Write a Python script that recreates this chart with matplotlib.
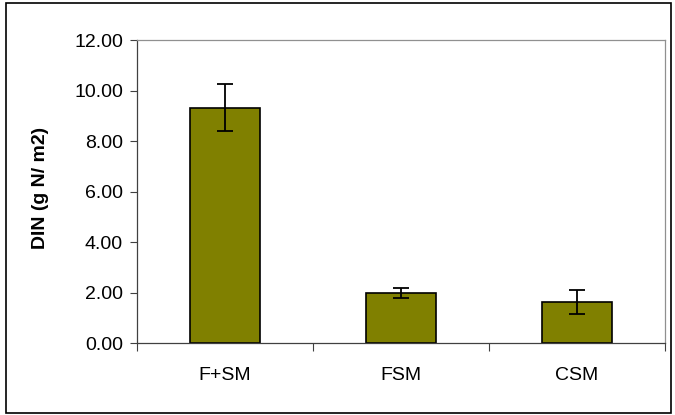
import matplotlib.pyplot as plt
import matplotlib.patches as patches
import numpy as np

categories = ["F+SM", "FSM", "CSM"]
din = [9.31, 2.00, 1.64]
din_err = [0.93, 0.20, 0.47]
yticks = [0, 2, 4, 6, 8, 10, 12]

plt.rcParams['font.family'] = ['Liberation Sans', 'DejaVu Sans']

fig = plt.figure(figsize=(6.75, 4.15), dpi=100)
ax = fig.add_axes([137/675, 1-343.3/415, (665-137)/675, (343.3-40)/415])

x = np.arange(len(categories))
ax.bar(x, din, width=0.4, color='#808000', edgecolor='black', linewidth=1.2, zorder=2)
ax.errorbar(x, din, yerr=din_err, fmt='none', ecolor='black', elinewidth=1.3,
            capsize=5.5, capthick=1.3, zorder=3)

ax.set_xlim(-0.5, 2.5)
ax.set_ylim(0, 12)
ax.set_yticks(yticks)
ax.set_yticklabels([f"{v:.2f}" for v in yticks], fontsize=14)
ax.set_xticks(x)
ax.set_xticklabels(categories, fontsize=14)
ax.set_xticks([-0.5, 0.5, 1.5, 2.5], minor=True)
ax.tick_params(axis='x', which='major', length=0, pad=17)
ax.tick_params(axis='x', which='minor', length=5.5, width=0.8, color='#404040', direction='out')
ax.tick_params(axis='y', length=5, width=0.8, color='#404040', pad=5)
ax.set_ylabel("DIN (g N/ m2)", fontsize=14, fontweight='bold')
ax.yaxis.set_label_coords(-0.166, 0.512)

for s in ['left', 'bottom']:
    ax.spines[s].set_color('#404040')
    ax.spines[s].set_linewidth(0.9)
for s in ['top', 'right']:
    ax.spines[s].set_color('#909090')
    ax.spines[s].set_linewidth(0.9)

fig.patches.append(patches.Rectangle((6/675, 1-413/415), (671-6)/675, (413-3)/415,
                                     transform=fig.transFigure, fill=False,
                                     edgecolor='black', linewidth=1.2))

fig.savefig("out.png", dpi=100)
